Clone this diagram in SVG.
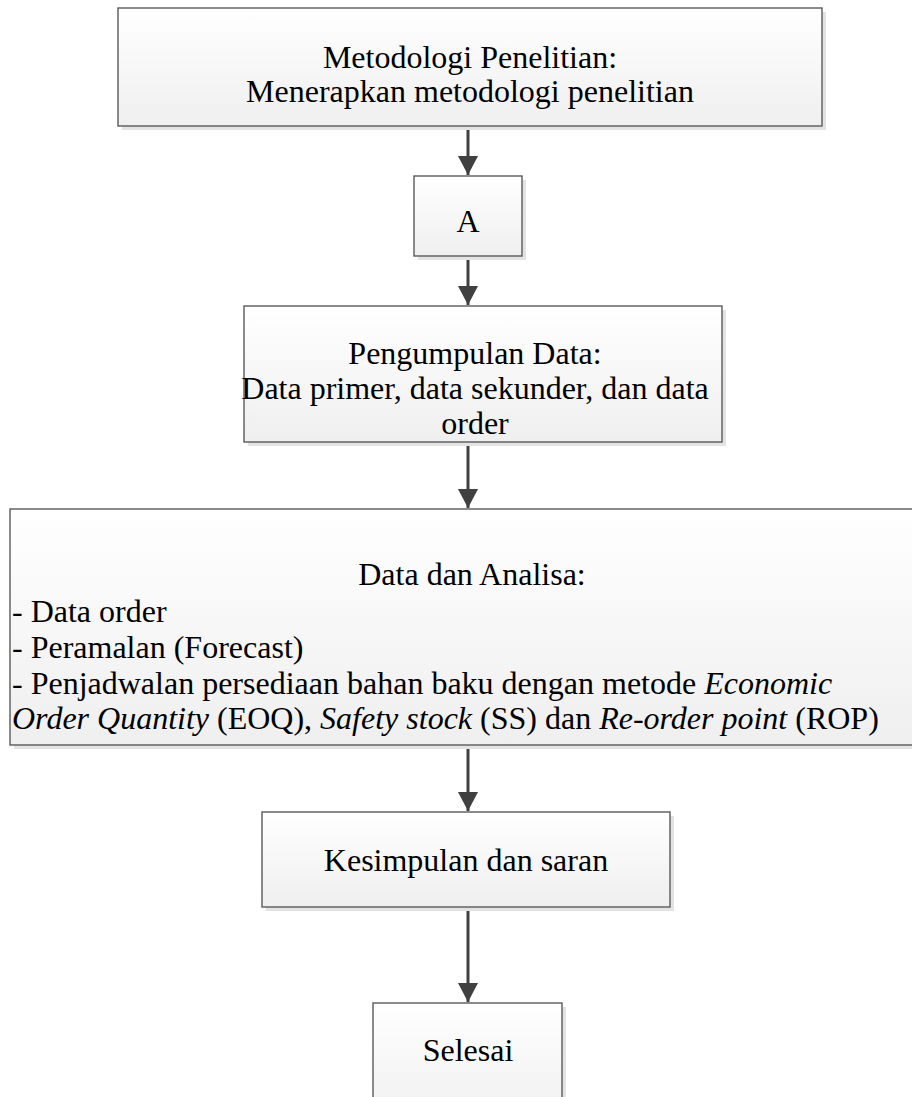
<svg xmlns="http://www.w3.org/2000/svg" width="912" height="1097" viewBox="0 0 912 1097">
<style>
.box{fill:url(#g);stroke:#5a5a5a;stroke-width:1.4}
.sh{fill:#e3e3e3}
text{font-family:"Liberation Serif","Times New Roman",serif;font-size:32px;fill:#000}
.c{text-anchor:middle}
.i{font-style:italic}
.con{stroke:#404040;stroke-width:3;fill:none}
</style>
<defs>
<linearGradient id="g" x1="0" y1="0" x2="0" y2="1">
<stop offset="0" stop-color="#ffffff"/>
<stop offset="1" stop-color="#efefef"/>
</linearGradient>
<marker id="ah" markerUnits="userSpaceOnUse" markerWidth="20" markerHeight="20" viewBox="0 0 20 20" refX="19" refY="10" orient="auto">
<path d="M0,0 L19,10 L0,20 Z" fill="#404040"/>
</marker>
</defs>
<g id="connectors">
<path class="con" d="M468,126 V175" marker-end="url(#ah)"/>
<path class="con" d="M468,256 V305" marker-end="url(#ah)"/>
<path class="con" d="M468,442 V508" marker-end="url(#ah)"/>
<path class="con" d="M468,745 V811" marker-end="url(#ah)"/>
<path class="con" d="M468,907 V1002" marker-end="url(#ah)"/>
</g>
<g id="n1">
<rect class="sh" x="122" y="12" width="704" height="118"/>
<rect class="box" x="118" y="8" width="704" height="118"/>
<text class="c" x="470" y="68">Metodologi Penelitian:</text>
<text class="c" x="470" y="102">Menerapkan metodologi penelitian</text>
</g>
<g id="n2">
<rect class="sh" x="418" y="180" width="108" height="80"/>
<rect class="box" x="414" y="176" width="108" height="80"/>
<text class="c" x="468" y="232">A</text>
</g>
<g id="n3">
<rect class="sh" x="248" y="310" width="478" height="136"/>
<rect class="box" x="244" y="306" width="478" height="136"/>
<text class="c" x="475" y="364">Pengumpulan Data:</text>
<text class="c" x="475" y="399">Data primer, data sekunder, dan data</text>
<text class="c" x="475" y="434">order</text>
</g>
<g id="n4">
<rect class="sh" x="14" y="513" width="920" height="236"/>
<rect class="box" x="10" y="509" width="920" height="236"/>
<text class="c" x="472" y="585">Data dan Analisa:</text>
<text x="12" y="622">- Data order</text>
<text x="12" y="658">- Peramalan (Forecast)</text>
<text x="12" y="694">- Penjadwalan persediaan bahan baku dengan metode <tspan class="i">Economic</tspan></text>
<text x="12" y="729"><tspan class="i">Order Quantity</tspan> (EOQ), <tspan class="i">Safety stock</tspan> (SS) dan <tspan class="i">Re-order point</tspan> (ROP)</text>
</g>
<g id="n5">
<rect class="sh" x="266" y="816" width="408" height="95"/>
<rect class="box" x="262" y="812" width="408" height="95"/>
<text class="c" x="466" y="871">Kesimpulan dan saran</text>
</g>
<g id="n6">
<rect class="sh" x="377" y="1007" width="189" height="120"/>
<rect class="box" x="373" y="1003" width="189" height="120"/>
<text class="c" x="468" y="1061">Selesai</text>
</g>
</svg>
